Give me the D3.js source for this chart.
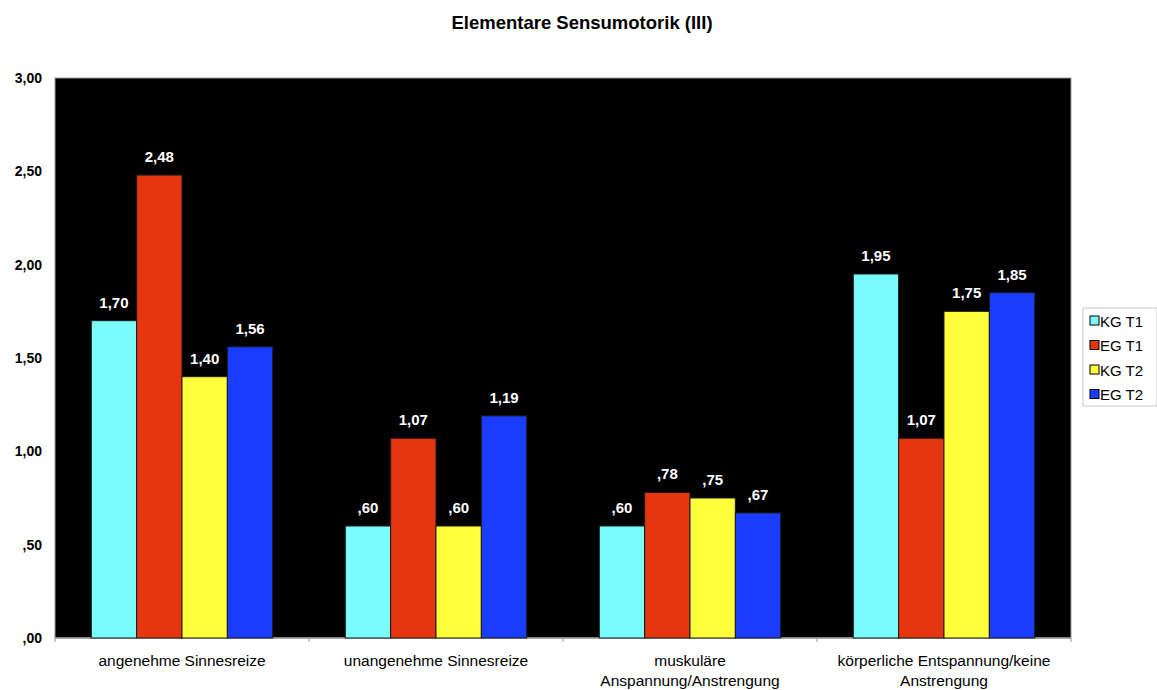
<!DOCTYPE html>
<html>
<head>
<meta charset="utf-8">
<script src="https://cdn.jsdelivr.net/npm/d3@7"></script>
<style>
  html, body { margin: 0; padding: 0; background: #fff; }
  svg { display: block; font-family: Arial, "Liberation Sans", sans-serif; }
</style>
</head>
<body>
<svg id="chart" width="1157" height="690"></svg>
<script>
// Chart data
const title = "Elementare Sensumotorik (III)";
const categories = [
  ["angenehme Sinnesreize"],
  ["unangenehme Sinnesreize"],
  ["muskuläre", "Anspannung/Anstrengung"],
  ["körperliche Entspannung/keine", "Anstrengung"]
];
const seriesNames = ["KG T1", "EG T1", "KG T2", "EG T2"];
const kgT1 = [1.70, 0.60, 0.60, 1.95];
const egT1 = [2.48, 1.07, 0.78, 1.07];
const kgT2 = [1.40, 0.60, 0.75, 1.75];
const egT2 = [1.56, 1.19, 0.67, 1.85];
const yTicks = [0, 0.5, 1.0, 1.5, 2.0, 2.5, 3.0];
const seriesColors = ["#7afcfc", "#e5360f", "#ffff3c", "#1a3cff"];

const seriesValues = [kgT1, egT1, kgT2, egT2];

const svg = d3.select("#chart");
const plot = { left: 55, right: 1071, top: 78, bottom: 638 };

// German-style number label: "1,70", ",60"
const fmt = v => {
  const s = d3.format(".2f")(v).replace(".", ",");
  return s.startsWith("0,") ? s.slice(1) : s;
};

const x0 = d3.scaleBand()
  .domain(d3.range(categories.length))
  .range([plot.left, plot.right])
  .paddingInner(0)
  .paddingOuter(0);

const barW = x0.bandwidth() / 5.6;
const x1 = d3.scaleBand()
  .domain(d3.range(seriesNames.length))
  .range([0.8 * barW, x0.bandwidth() - 0.8 * barW])
  .padding(0);

const y = d3.scaleLinear().domain([0, 3]).range([plot.bottom, plot.top]);

// Title
svg.append("text")
  .attr("x", 582).attr("y", 29)
  .attr("text-anchor", "middle")
  .attr("font-size", 18.5).attr("font-weight", "bold")
  .attr("fill", "#000")
  .text(title);

// Plot background
svg.append("rect")
  .attr("x", plot.left).attr("y", plot.top)
  .attr("width", plot.right - plot.left).attr("height", plot.bottom - plot.top)
  .attr("fill", "#000")
  .attr("stroke", "#9a9a9a").attr("stroke-width", 1);

// Y axis labels
const yAxis = d3.axisLeft(y).tickValues(yTicks).tickSize(0).tickPadding(13).tickFormat(fmt);
const yg = svg.append("g").attr("transform", `translate(${plot.left},0)`).call(yAxis);
yg.select(".domain").remove();
yg.selectAll("text")
  .attr("font-size", 14).attr("font-weight", "bold")
  .attr("font-family", "Arial, 'Liberation Sans', sans-serif")
  .attr("fill", "#000");

// X axis line with group separator ticks
const xg = svg.append("g").attr("transform", `translate(0,${plot.bottom})`);
xg.append("line")
  .attr("x1", plot.left).attr("x2", plot.right)
  .attr("stroke", "#9a9a9a").attr("stroke-width", 1.5);
xg.selectAll("line.sep")
  .data(d3.range(categories.length + 1))
  .join("line")
  .attr("class", "sep")
  .attr("x1", i => plot.left + i * x0.bandwidth())
  .attr("x2", i => plot.left + i * x0.bandwidth())
  .attr("y1", 0).attr("y2", 4)
  .attr("stroke", "#9a9a9a");

// Category labels
categories.forEach((lines, i) => {
  const t = svg.append("text")
    .attr("x", x0(i) + x0.bandwidth() / 2)
    .attr("y", 666)
    .attr("text-anchor", "middle")
    .attr("font-size", 15.5)
    .attr("fill", "#000");
  lines.forEach((ln, k) => {
    t.append("tspan")
      .attr("x", x0(i) + x0.bandwidth() / 2)
      .attr("dy", k === 0 ? 0 : 20)
      .text(ln);
  });
});

// Bars
const groups = svg.append("g").selectAll("g")
  .data(categories.map((c, i) => i))
  .join("g")
  .attr("transform", i => `translate(${x0(i)},0)`);

groups.selectAll("rect")
  .data(i => seriesValues.map((vals, s) => ({ s, v: vals[i] })))
  .join("rect")
  .attr("x", d => x1(d.s))
  .attr("y", d => y(d.v))
  .attr("width", x1.bandwidth())
  .attr("height", d => plot.bottom - y(d.v))
  .attr("fill", d => seriesColors[d.s])
  .attr("stroke", "#1a1a1a").attr("stroke-width", 1);

groups.selectAll("text")
  .data(i => seriesValues.map((vals, s) => ({ s, v: vals[i] })))
  .join("text")
  .attr("x", d => x1(d.s) + x1.bandwidth() / 2)
  .attr("y", d => y(d.v) - 13)
  .attr("text-anchor", "middle")
  .attr("font-size", 15).attr("font-weight", "bold")
  .attr("fill", "#fff")
  .text(d => fmt(d.v));

// Legend
const legend = svg.append("g").attr("transform", "translate(1083,308)");
legend.append("rect")
  .attr("x", 0).attr("y", 0).attr("width", 74).attr("height", 98)
  .attr("fill", "#fff").attr("stroke", "#c8c8c8");
seriesNames.forEach((name, s) => {
  const row = legend.append("g").attr("transform", `translate(7,${13 + s * 24.5})`);
  row.append("rect")
    .attr("x", 0).attr("y", -5).attr("width", 9).attr("height", 9)
    .attr("fill", seriesColors[s]).attr("stroke", "#000").attr("stroke-width", 1);
  row.append("text")
    .attr("x", 10).attr("y", 5.5)
    .attr("font-size", 15).attr("fill", "#000")
    .text(name);
});
</script>
</body>
</html>
